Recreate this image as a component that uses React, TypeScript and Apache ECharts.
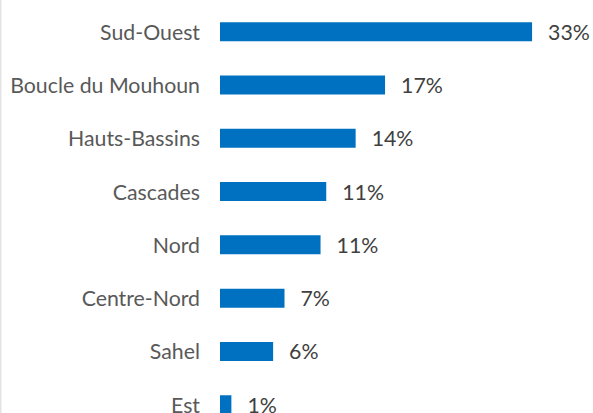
import React, { useEffect, useRef } from "react";
import * as echarts from "echarts";

const categories = [
  "Sud-Ouest",
  "Boucle du Mouhoun",
  "Hauts-Bassins",
  "Cascades",
  "Nord",
  "Centre-Nord",
  "Sahel",
  "Est",
];
const values = [32.9, 17.4, 14.3, 11.2, 10.6, 6.8, 5.6, 1.2];

export default function App() {
  const ref = useRef<HTMLDivElement>(null);
  useEffect(() => {
    if (!ref.current) return;
    const chart = echarts.init(ref.current, null, { renderer: "svg" });
    chart.setOption({
      animation: false,
      backgroundColor: "#ffffff",
      grid: { left: 220, right: 41, top: 5, height: 426.4, containLabel: false },
      xAxis: {
        type: "value",
        min: 0,
        max: 35,
        show: false,
      },
      yAxis: {
        type: "category",
        data: categories,
        inverse: true,
        axisLine: { show: false },
        axisTick: { show: false },
        splitLine: { show: false },
        axisLabel: {
          margin: 20,
          color: "#595959",
          fontFamily: "Lato",
          fontSize: 21.3,
        },
      },
      graphic: [
        {
          type: "rect",
          shape: { x: 0, y: 0, width: 1.5, height: 440 },
          style: { fill: "#e3e3e3" },
          silent: true,
        },
      ],
      series: [
        {
          type: "bar",
          data: values,
          barWidth: 19,
          itemStyle: { color: "#0070C0" },
          label: {
            show: true,
            position: "right",
            distance: 16,
            color: "#404040",
            fontFamily: "Lato",
            fontSize: 21.3,
            formatter: (p: any) => Math.round(p.value) + "%",
          },
        },
      ],
    });
    return () => chart.dispose();
  }, []);
  return (
    <div
      ref={ref}
      style={{ position: "absolute", left: 0, top: 0, width: 593, height: 440 }}
    />
  );
}
